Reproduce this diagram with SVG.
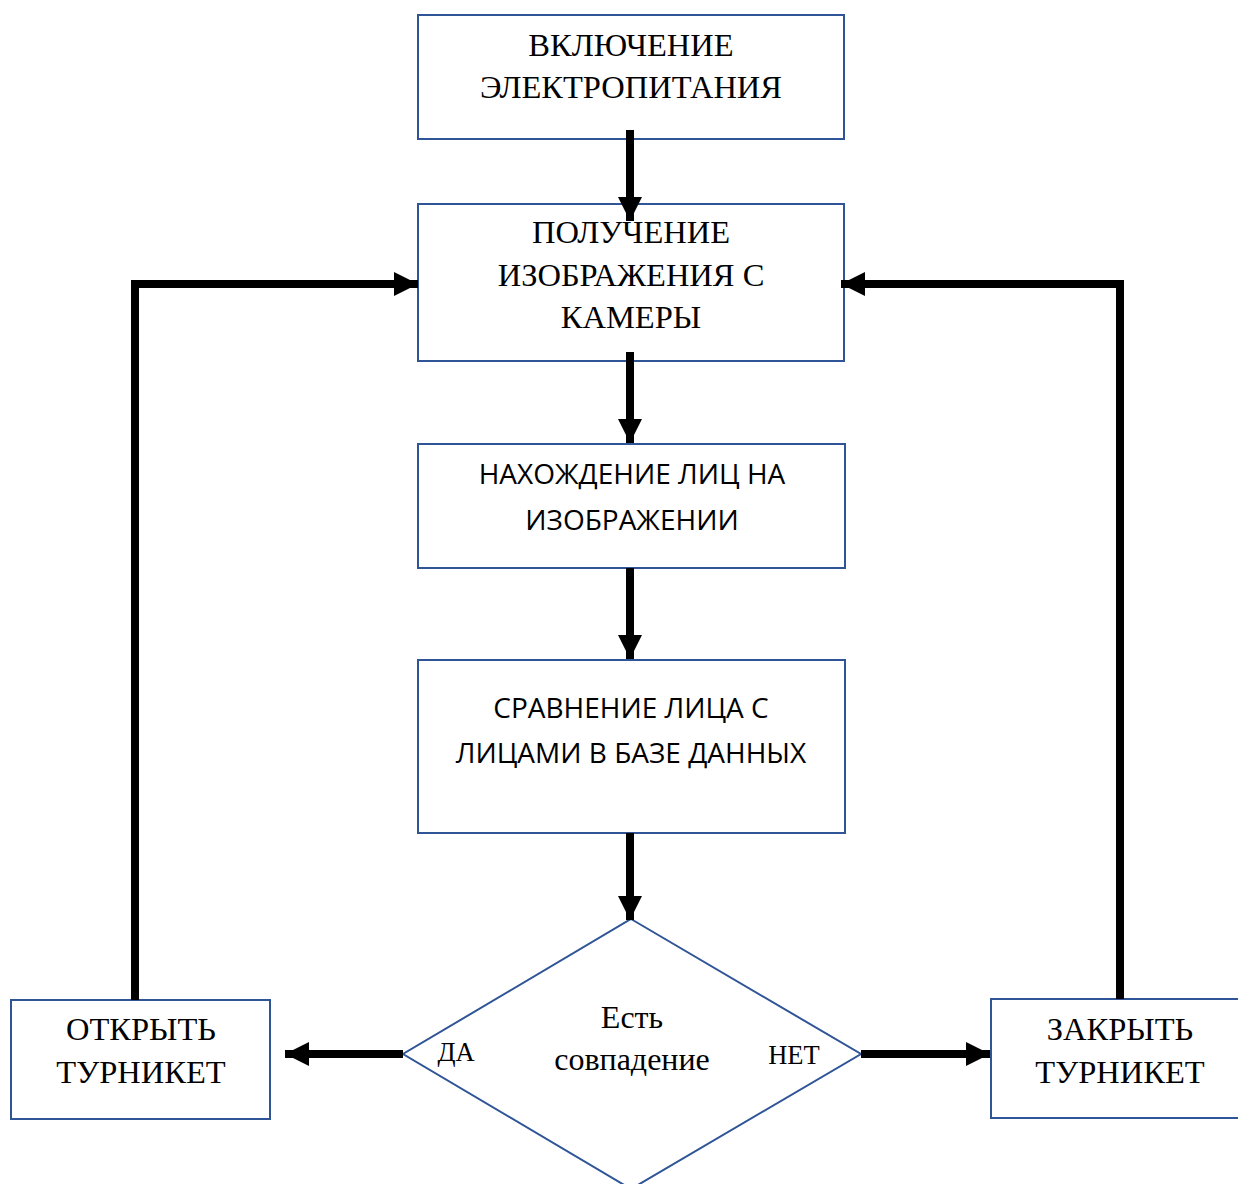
<svg xmlns="http://www.w3.org/2000/svg" width="1238" height="1184" viewBox="0 0 1238 1184">
<style>
.box{fill:#fff;stroke:#2F5597;stroke-width:2}
.ser{font-family:"Liberation Serif","Times New Roman",serif;font-size:32.5px;fill:#000;text-anchor:middle}
.sans{font-family:"Open Sans","Noto Sans",sans-serif;font-size:28px;fill:#000;text-anchor:middle}
.lbl{font-family:"Liberation Serif","Times New Roman",serif;font-size:26.5px;fill:#000;text-anchor:middle}
.con{fill:none;stroke:#000;stroke-width:8}
</style>
<defs>
<marker id="ah" viewBox="0 0 10 10" refX="10" refY="5" markerWidth="3" markerHeight="3" markerUnits="strokeWidth" orient="auto">
<path d="M0,0 L10,5 L0,10 z" fill="#000"/>
</marker>
</defs>
<rect width="1238" height="1184" fill="#fff"/>
<g id="n1">
<rect class="box" x="418" y="15" width="426" height="124"/>
<text class="ser" x="631" y="56">ВКЛЮЧЕНИЕ</text>
<text class="ser" x="631" y="98">ЭЛЕКТРОПИТАНИЯ</text>
</g>
<g id="n2">
<rect class="box" x="418" y="204" width="426" height="157"/>
<text class="ser" x="631" y="243">ПОЛУЧЕНИЕ</text>
<text class="ser" x="631" y="286">ИЗОБРАЖЕНИЯ С</text>
<text class="ser" x="631" y="328">КАМЕРЫ</text>
</g>
<g id="n3">
<rect class="box" x="418" y="444" width="427" height="124"/>
<text class="sans" x="632" y="484">НАХОЖДЕНИЕ ЛИЦ НА</text>
<text class="sans" x="632" y="530">ИЗОБРАЖЕНИИ</text>
</g>
<g id="n4">
<rect class="box" x="418" y="660" width="427" height="173"/>
<text class="sans" x="631" y="718">СРАВНЕНИЕ ЛИЦА С</text>
<text class="sans" x="631" y="763">ЛИЦАМИ В БАЗЕ ДАННЫХ</text>
</g>
<g id="n5">
<polygon class="box" points="631,919 861,1054 631,1189 403,1054"/>
<text class="ser" x="632" y="1028" style="font-size:32px">Есть</text>
<text class="ser" x="632" y="1070" style="font-size:32px">совпадение</text>
<text class="lbl" x="456" y="1061">ДА</text>
<text class="lbl" x="794" y="1064">НЕТ</text>
</g>
<g id="n6">
<rect class="box" x="11" y="1000" width="259" height="119"/>
<text class="ser" x="141" y="1040">ОТКРЫТЬ</text>
<text class="ser" x="141" y="1083">ТУРНИКЕТ</text>
</g>
<g id="n7">
<rect class="box" x="991" y="999" width="260" height="119"/>
<text class="ser" x="1120" y="1040">ЗАКРЫТЬ</text>
<text class="ser" x="1120" y="1083">ТУРНИКЕТ</text>
</g>
<g id="connectors">
<path class="con" d="M630,130 V221" marker-end="url(#ah)"/>
<path class="con" d="M630,352 V443" marker-end="url(#ah)"/>
<path class="con" d="M630,568 V659" marker-end="url(#ah)"/>
<path class="con" d="M630,833 V920" marker-end="url(#ah)"/>
<path class="con" d="M403,1054 H285" marker-end="url(#ah)"/>
<path class="con" d="M861,1054 H990" marker-end="url(#ah)"/>
<path class="con" d="M135,1000 V284 H418" marker-end="url(#ah)"/>
<path class="con" d="M1120,999 V284 H841" marker-end="url(#ah)"/>
</g>
</svg>
